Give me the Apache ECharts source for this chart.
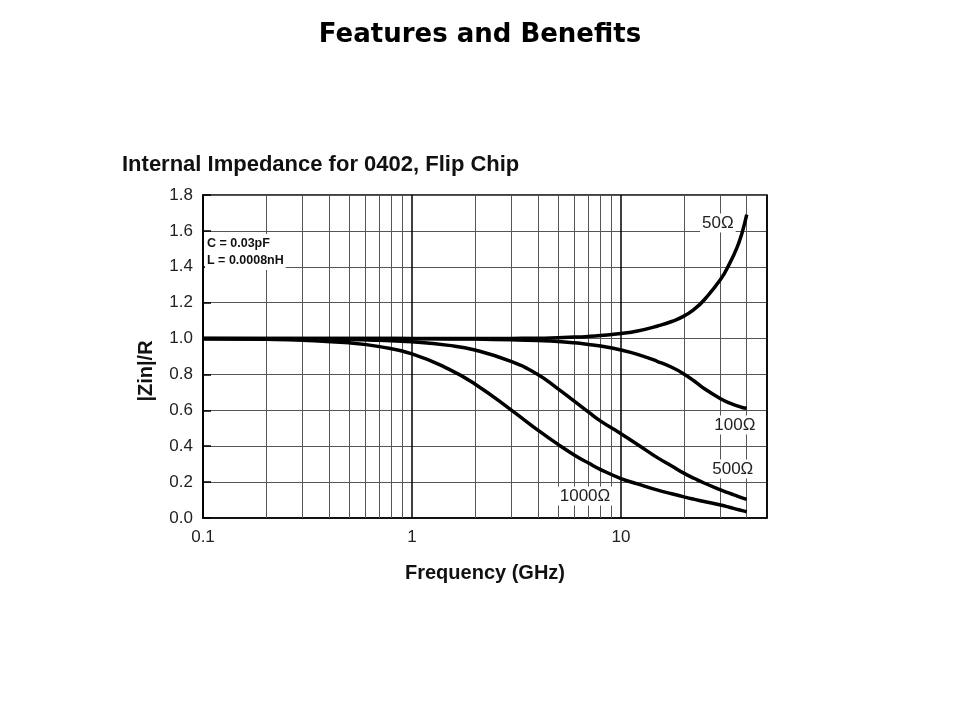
<!DOCTYPE html>
<html>
<head>
<meta charset="utf-8">
<script src="https://cdn.jsdelivr.net/npm/echarts@6/dist/echarts.min.js"></script>
<style>
  html, body { margin: 0; padding: 0; background: #fff; }
  #main { width: 960px; height: 720px; }
</style>
</head>
<body>
<div id="main"></div>
<script>
// frequency points (GHz)
var freq = [0.1, 0.2, 0.3, 0.5, 0.7, 1, 1.5, 2, 3, 4, 5, 6, 7, 8, 10, 12, 15, 17.5, 20, 22.5, 25, 30, 33, 36, 38, 40];

// |Zin|/R for each load resistance
var r50   = [1.0, 1.0, 1.0, 1.0, 1.0, 1.0, 1.0, 1.0, 1.001, 1.002, 1.005, 1.008, 1.012, 1.017, 1.028, 1.042, 1.07, 1.095, 1.125, 1.165, 1.215, 1.33, 1.415, 1.51, 1.59, 1.69];
var r100  = [1.0, 1.0, 1.0, 1.0, 1.0, 0.999, 0.998, 0.997, 0.993, 0.989, 0.984, 0.976, 0.967, 0.958, 0.936, 0.912, 0.872, 0.84, 0.803, 0.762, 0.722, 0.665, 0.641, 0.625, 0.616, 0.611];
var r500  = [1.0, 0.999, 0.998, 0.995, 0.99, 0.982, 0.962, 0.936, 0.871, 0.80, 0.72, 0.65, 0.59, 0.54, 0.47, 0.41, 0.335, 0.29, 0.25, 0.22, 0.195, 0.157, 0.138, 0.122, 0.112, 0.104];
var r1000 = [0.999, 0.996, 0.991, 0.976, 0.955, 0.915, 0.83, 0.747, 0.60, 0.49, 0.41, 0.35, 0.306, 0.27, 0.22, 0.19, 0.155, 0.135, 0.118, 0.104, 0.092, 0.072, 0.06, 0.048, 0.041, 0.035];

// minor log grid lines
var minorLines = [0.2, 0.3, 0.4, 0.5, 0.6, 0.7, 0.8, 0.9, 2, 3, 4, 5, 6, 7, 8, 9, 20, 30, 40];
var majorLabels = [0.1, 1, 10];

function pairs(vals) {
  return freq.map(function (f, i) { return [f, vals[i]]; });
}

function curve(name, vals, labelAt) {
  return {
    name: name,
    type: 'line',
    data: pairs(vals),
    showSymbol: false,
    smooth: 0.5,
    z: 5,
    lineStyle: { color: '#000', width: 3.5 },
    markPoint: {
      symbol: 'rect',
      symbolSize: 1,
      itemStyle: { color: 'rgba(0,0,0,0)' },
      label: {
        show: true,
        position: 'inside',
        formatter: name,
        color: '#222',
        fontSize: 17,
        fontFamily: 'Liberation Sans',
        backgroundColor: '#fff',
        padding: [1, 2]
      },
      data: [{ coord: labelAt }]
    }
  };
}

var chart = echarts.init(document.getElementById('main'));
var option = {
  animation: false,
  backgroundColor: '#fff',
  title: [{
    text: 'Features and Benefits',
    left: 'center',
    top: 17,
    textStyle: { fontFamily: 'DejaVu Sans', fontSize: 26, fontWeight: 'bold', color: '#000' }
  }, {
    text: 'Internal Impedance for 0402, Flip Chip',
    left: 117,
    top: 149,
    textStyle: { fontFamily: 'Liberation Sans', fontSize: 22, fontWeight: 'bold', color: '#111' }
  }, {
    text: 'C = 0.03pF\nL = 0.0008nH',
    left: 205,
    top: 234,
    padding: [1, 2],
    backgroundColor: '#fff',
    textStyle: { fontFamily: 'Liberation Sans', fontSize: 12.5, fontWeight: 'bold', color: '#111', lineHeight: 17 }
  }],
  graphic: [{
    type: 'text',
    x: 146,
    y: 371,
    rotation: Math.PI / 2,
    style: {
      text: '|Zin|/R',
      fill: '#111',
      font: 'bold 20px "Liberation Sans"',
      textAlign: 'center',
      textVerticalAlign: 'middle'
    }
  }],
  grid: {
    left: 203, top: 195, right: 193, bottom: 202,
    show: true, borderColor: '#000', borderWidth: 1.5
  },
  xAxis: {
    type: 'log',
    logBase: 10,
    min: 0.1,
    max: 50,
    name: 'Frequency (GHz)',
    nameLocation: 'middle',
    nameGap: 45,
    nameTextStyle: { fontFamily: 'Liberation Sans', fontSize: 20, fontWeight: 'bold', color: '#111' },
    axisLine: { lineStyle: { color: '#000', width: 1.5 } },
    axisTick: { show: false },
    axisLabel: {
      margin: 11,
      fontFamily: 'Liberation Sans',
      fontSize: 17,
      color: '#222',
      showMaxLabel: false,
      formatter: function (v) {
        var n = +(+v).toPrecision(3);
        return majorLabels.indexOf(n) >= 0 ? String(n) : '';
      }
    },
    splitLine: { show: true, lineStyle: { color: '#000', width: 1.5 } }
  },
  yAxis: {
    type: 'value',
    min: 0,
    max: 1.8,
    interval: 0.2,
    axisLine: { show: true, lineStyle: { color: '#000', width: 1.5 } },
    axisTick: { show: true, inside: true, length: 8, lineStyle: { color: '#000', width: 1.5 } },
    axisLabel: {
      margin: 10,
      fontFamily: 'Liberation Sans',
      fontSize: 17,
      color: '#222',
      formatter: function (v) { return v.toFixed(1); }
    },
    splitLine: { show: true, lineStyle: { color: '#555', width: 1 } }
  },
  series: [{
    name: 'grid',
    type: 'line',
    data: [[0.1, 0], [50, 0]],
    showSymbol: false,
    silent: true,
    z: 1,
    lineStyle: { opacity: 0 },
    markLine: {
      silent: true,
      symbol: ['none', 'none'],
      label: { show: false },
      lineStyle: { color: '#555', width: 1, type: 'solid' },
      data: minorLines.map(function (f) { return { xAxis: f }; })
    }
  },
    curve('50Ω', r50, [29.1, 1.644]),
    curve('100Ω', r100, [35.1, 0.518]),
    curve('500Ω', r500, [34.3, 0.273]),
    curve('1000Ω', r1000, [6.73, 0.123])
  ]
};
chart.setOption(option);
window.onresize = function () {
  chart.resize();
};
</script>
</body>
</html>
